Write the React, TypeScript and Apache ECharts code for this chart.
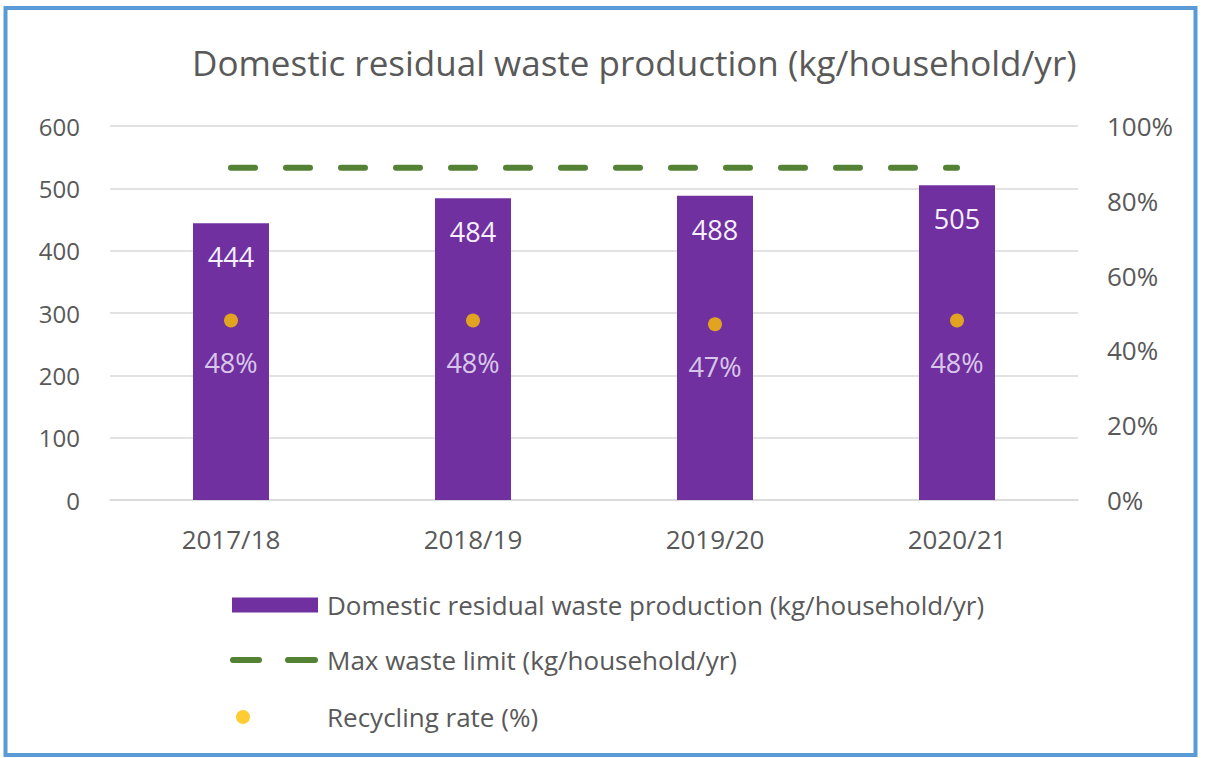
import React, { useEffect, useRef } from "react";
import * as echarts from "echarts";

const categories = ["2017/18", "2018/19", "2019/20", "2020/21"];
const wasteValues = [444, 484, 488, 505];
const limitValues = [533, 533, 533, 533];
const recyclingRates = [48, 48, 47, 48];

const seriesNames = [
  "Domestic residual waste production (kg/household/yr)",
  "Max waste limit (kg/household/yr)",
  "Recycling rate (%)",
];

const FONT = "'Open Sans', Lato, sans-serif";
const GREY = "#595959";
const DASH_ICON =
  "path://M3,0H29A3,3 0 0 1 29,6H3A3,3 0 0 1 3,0Z M58,0H85A3,3 0 0 1 85,6H58A3,3 0 0 1 58,0Z";

export default function App() {
  const ref = useRef<HTMLDivElement>(null);

  useEffect(() => {
    document.body.style.margin = "0";
    const chart = echarts.init(ref.current!, null, { renderer: "svg" });
    const legendText = { fontFamily: FONT, fontSize: 26, color: GREY, lineHeight: 28 };
    chart.setOption({
      animation: false,
      backgroundColor: "#ffffff",
      textStyle: { fontFamily: FONT },
      title: {
        text: "Domestic residual waste production (kg/household/yr)",
        left: 192,
        top: 40,
        padding: 0,
        textStyle: { fontFamily: FONT, fontSize: 35, fontWeight: "normal", color: GREY, lineHeight: 44 },
      },
      graphic: [
        {
          type: "rect",
          shape: { x: 5.5, y: 8, width: 1190, height: 747 },
          style: { fill: "none", stroke: "#5B9BD5", lineWidth: 4 },
          z: 100,
        },
      ],
      grid: { left: 110, right: 135, top: 126, bottom: 258 },
      legend: [
        {
          data: [seriesNames[0]],
          left: 232,
          top: 591,
          padding: 0,
          icon: "rect",
          itemWidth: 86,
          itemHeight: 15,
          textStyle: { ...legendText, padding: [0, 0, 0, 4] },
        },
        {
          data: [seriesNames[1]],
          left: 230,
          top: 646,
          padding: 0,
          icon: DASH_ICON,
          itemWidth: 88,
          itemHeight: 6,
          itemStyle: { color: "#548235" },
          textStyle: { ...legendText, padding: [0, 0, 0, 4] },
        },
        {
          data: [seriesNames[2]],
          left: 236,
          top: 703,
          padding: 0,
          icon: "circle",
          itemWidth: 14,
          itemHeight: 14,
          textStyle: { ...legendText, padding: [0, 0, 0, 72] },
        },
      ],
      xAxis: {
        type: "category",
        data: categories,
        axisLine: { lineStyle: { color: "#d9d9d9", width: 1.5 } },
        axisTick: { show: false },
        axisLabel: { color: GREY, fontSize: 26, margin: 26, fontFamily: FONT },
      },
      yAxis: [
        {
          type: "value",
          min: 0,
          max: 600,
          interval: 100,
          axisLine: { show: false },
          axisTick: { show: false },
          axisLabel: { color: GREY, fontSize: 24, margin: 30, fontFamily: FONT },
          splitLine: { lineStyle: { color: "#d9d9d9", width: 1.5 } },
        },
        {
          type: "value",
          min: 0,
          max: 100,
          interval: 20,
          position: "right",
          axisLine: { show: false },
          axisTick: { show: false },
          splitLine: { show: false },
          axisLabel: { color: GREY, fontSize: 26, margin: 29, fontFamily: FONT, formatter: "{value}%" },
        },
      ],
      series: [
        {
          name: seriesNames[0],
          type: "bar",
          data: wasteValues,
          barWidth: 76,
          itemStyle: { color: "#7030A0" },
          label: {
            show: true,
            position: "insideTop",
            distance: 20,
            color: "#f6f0ff",
            fontSize: 27,
            fontFamily: FONT,
          },
          z: 1,
        },
        {
          name: seriesNames[1],
          type: "line",
          data: limitValues,
          symbol: "none",
          lineStyle: { color: "#548235", width: 6, type: [24, 31], cap: "round" },
          itemStyle: { color: "#548235" },
          z: 3,
        },
        {
          name: seriesNames[2],
          type: "scatter",
          yAxisIndex: 1,
          data: recyclingRates,
          symbol: "circle",
          symbolSize: 14,
          itemStyle: { color: "#FFC000" },
          label: {
            show: true,
            position: "bottom",
            distance: 22,
            color: "#f6f0ff",
            fontSize: 27,
            fontFamily: FONT,
            formatter: "{c}%",
          },
          z: 4,
        },
      ],
    });
    return () => chart.dispose();
  }, []);

  return (
    <div
      ref={ref}
      style={{ position: "absolute", left: 0, top: 0, width: 1213, height: 758 }}
    />
  );
}
